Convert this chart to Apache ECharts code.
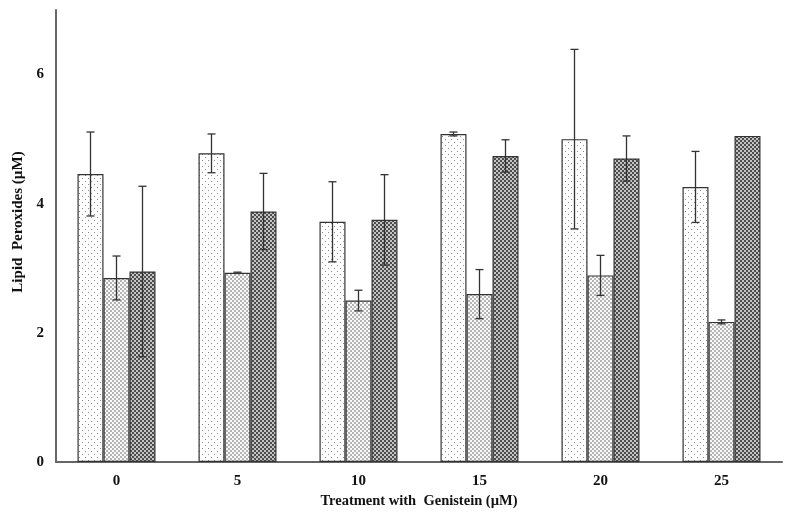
<!DOCTYPE html>
<html>
<head>
<meta charset="UTF-8">
<title>Lipid Peroxides</title>
<script src="https://cdn.jsdelivr.net/npm/echarts@6/dist/echarts.min.js"></script>
<style>
  body{margin:0;padding:0;background:#fff;}
  #chart{width:800px;height:515px;}
</style>
</head>
<body>
<div id="chart"></div>
<script>
var categories = ['0', '5', '10', '15', '20', '25'];
var series1 = [4.46, 4.78, 3.72, 5.08, 5.00, 4.26];
var series2 = [2.85, 2.93, 2.50, 2.60, 2.89, 2.17];
var series3 = [2.95, 3.88, 3.75, 4.74, 4.70, 5.05];
var err1 = [0.65, 0.30, 0.62, 0.03, 1.39, 0.55];
var err2 = [0.34, 0.01, 0.16, 0.38, 0.31, 0.03];
var err3 = [1.32, 0.59, 0.70, 0.25, 0.35, 0];

// little canvas tiles for the hatch fills
function tile(size, draw){
  var c = document.createElement('canvas');
  c.width = size; c.height = size;
  var ctx = c.getContext('2d');
  draw(ctx);
  return c;
}
var dots = tile(6, function(ctx){
  ctx.fillStyle = '#fff'; ctx.fillRect(0,0,6,6);
  ctx.fillStyle = '#8a8a8a';
  ctx.fillRect(1,1,1,1); ctx.fillRect(4,4,1,1);
});
var lightCheck = tile(4, function(ctx){
  ctx.fillStyle = '#fafafa'; ctx.fillRect(0,0,4,4);
  ctx.fillStyle = '#b4b4b4';
  ctx.fillRect(0,0,2,2); ctx.fillRect(2,2,2,2);
});
var darkCheck = tile(4, function(ctx){
  ctx.fillStyle = '#c4c4c4'; ctx.fillRect(0,0,4,4);
  ctx.fillStyle = '#4c4c4c';
  ctx.fillRect(0,0,2,2); ctx.fillRect(2,2,2,2);
});

var BAR_W = 26;
function errData(vals, errs, idx){
  var out = [];
  for (var i = 0; i < vals.length; i++) {
    if (errs[i] > 0) out.push([i, vals[i] + errs[i], vals[i] - errs[i], idx]);
  }
  return out;
}
function renderErr(params, api){
  var idx = api.value(3);
  var off = (idx - 1) * BAR_W;
  var hi = api.coord([api.value(0), api.value(1)]);
  var lo = api.coord([api.value(0), api.value(2)]);
  var x = hi[0] + off;
  var cap = 4;
  var st = {stroke: '#333', lineWidth: 1.3};
  return {
    type: 'group',
    children: [
      {type: 'line', shape: {x1: x, y1: hi[1], x2: x, y2: lo[1]}, style: st},
      {type: 'line', shape: {x1: x - cap, y1: hi[1], x2: x + cap, y2: hi[1]}, style: st},
      {type: 'line', shape: {x1: x - cap, y1: lo[1], x2: x + cap, y2: lo[1]}, style: st}
    ]
  };
}

var barStyle = function(img){
  return {color: {image: img, repeat: 'repeat'}, borderColor: '#333', borderWidth: 1.2};
};

var chart = echarts.init(document.getElementById('chart'));
chart.setOption({
  animation: false,
  grid: {left: 56, right: 18, top: 10, bottom: 53, outerBoundsMode: 'none', containLabel: false},
  xAxis: {
    type: 'category',
    data: categories,
    name: 'Treatment with  Genistein (\u00b5M)',
    nameLocation: 'middle',
    nameGap: 32,
    nameTextStyle: {fontFamily: 'Liberation Serif', fontWeight: 'bold', fontSize: 14.5, color: '#111'},
    axisLine: {lineStyle: {color: '#666', width: 2}},
    axisTick: {show: false},
    axisLabel: {fontFamily: 'Liberation Serif', fontWeight: 'bold', fontSize: 15, color: '#111', margin: 12}
  },
  yAxis: {
    type: 'value',
    min: 0, max: 7, interval: 2,
    name: 'Lipid  Peroxides (\u00b5M)',
    nameLocation: 'middle',
    nameGap: 26,
    nameTextStyle: {fontFamily: 'Liberation Serif', fontWeight: 'bold', fontSize: 15, color: '#111', padding: [0, 0, 0, 28]},
    axisLine: {show: true, lineStyle: {color: '#666', width: 2}},
    axisTick: {show: false},
    splitLine: {show: false},
    axisLabel: {fontFamily: 'Liberation Serif', fontWeight: 'bold', fontSize: 15, color: '#111', margin: 12, showMaxLabel: false}
  },
  series: [
    {type: 'bar', data: series1, barWidth: BAR_W, barGap: '0%', itemStyle: barStyle(dots)},
    {type: 'bar', data: series2, barWidth: BAR_W, barGap: '0%', itemStyle: barStyle(lightCheck)},
    {type: 'bar', data: series3, barWidth: BAR_W, barGap: '0%', itemStyle: barStyle(darkCheck)},
    {type: 'custom', renderItem: renderErr, data: errData(series1, err1, 0), z: 5},
    {type: 'custom', renderItem: renderErr, data: errData(series2, err2, 1), z: 5},
    {type: 'custom', renderItem: renderErr, data: errData(series3, err3, 2), z: 5}
  ]
});
</script>
</body>
</html>
